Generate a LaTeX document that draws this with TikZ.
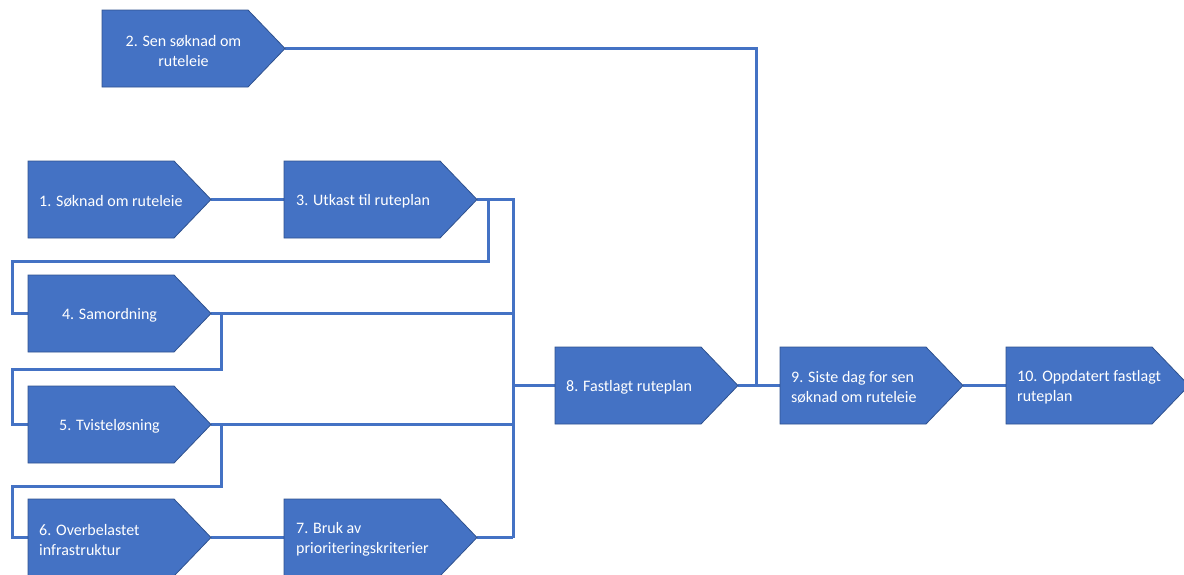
\documentclass[tikz,border=0pt]{standalone}
\usepackage{fontspec}
\setmainfont{Carlito}
\definecolor{boxblue}{HTML}{4472C4}
\definecolor{edgeblue}{HTML}{2F528F}
\definecolor{lineblue}{HTML}{4472C4}
\newcommand\homeplate[1]{\filldraw[platefill] (#1.north west) -- ([xshift=-37pt]#1.north east) -- (#1.east) -- ([xshift=-37pt]#1.south east) -- (#1.south west) -- cycle;}
\begin{document}
\begin{tikzpicture}[x=1pt,y=-1pt,
  stepbox/.style={rectangle, minimum width=183pt, minimum height=77pt, inner sep=0pt, outer sep=0pt, anchor=north west},
  widebox/.style={stepbox, minimum width=193pt},
  platefill/.style={fill=boxblue, draw=edgeblue, line width=0.8pt},
  lbl/.style={text=white, font=\fontsize{16}{20}\selectfont, align=left, inner sep=0pt, yshift=-2pt},
  clbl/.style={lbl, align=center},
  conn/.style={draw=lineblue, line width=3pt}]
\useasboundingbox (0,0) rectangle (1184,574);
% box frames
\node[stepbox] (b1) at (28,161) {};
\node[stepbox] (b2) at (102,10) {};
\node[widebox] (b3) at (284,161) {};
\node[stepbox] (b4) at (28,275) {};
\node[stepbox] (b5) at (28,386) {};
\node[stepbox] (b6) at (28,499) {};
\node[widebox] (b7) at (284,499) {};
\node[stepbox] (b8) at (555,347) {};
\node[stepbox] (b9) at (780,347) {};
\node[stepbox] (b10) at (1006,347) {};
% junctions
\coordinate (tr3) at (513,199.5);
\coordinate (tr7) at (513,537.5);
\coordinate (j89) at (756,385.5);
\coordinate (l3) at (488,199.5);
\coordinate (k3) at (12,261);
\coordinate (l4) at (221,313.5);
\coordinate (k4) at (12,369);
\coordinate (l5) at (221,424.5);
\coordinate (k5) at (12,486);
% connectors
\draw[conn] (b1.east) -- (b3.west);
\draw[conn] (b2.east) -| (j89);
\draw[conn] (b3.east) -- (tr3) -- (tr7);
\draw[conn] (b7.east) -- (tr7);
\draw[conn] (b4.east) -- (b4.east -| tr3);
\draw[conn] (b5.east) -- (b5.east -| tr3);
\draw[conn] (b8.west -| tr3) -- (b8.west);
\draw[conn] (l3) -- (l3 |- k3) -- (k3) |- (b4.west);
\draw[conn] (l4) -- (l4 |- k4) -- (k4) |- (b5.west);
\draw[conn] (l5) -- (l5 |- k5) -- (k5) |- (b6.west);
\draw[conn] (b6.east) -- (b7.west);
\draw[conn] (b8.east) -- (b9.west);
\draw[conn] (b9.east) -- (b10.west);
% boxes
\homeplate{b1}
\homeplate{b2}
\homeplate{b3}
\homeplate{b4}
\homeplate{b5}
\homeplate{b6}
\homeplate{b7}
\homeplate{b8}
\homeplate{b9}
\homeplate{b10}
% labels
\node[lbl, anchor=west] (t1) at ([xshift=11pt]b1.west) {1. Søknad om ruteleie};
\node[clbl] (t2) at ([xshift=81.5pt]b2.west) {2. Sen søknad om\\ruteleie};
\node[lbl, anchor=west] (t3) at ([xshift=12pt]b3.west) {3. Utkast til ruteplan};
\node[clbl] (t4) at ([xshift=81.5pt]b4.west) {4. Samordning};
\node[clbl] (t5) at ([xshift=81.5pt]b5.west) {5. Tvisteløsning};
\node[lbl, anchor=west] (t6) at ([xshift=11pt]b6.west) {6. Overbelastet\\infrastruktur};
\node[lbl, anchor=west] (t7) at ([xshift=12pt]b7.west) {7. Bruk av\\prioriteringskriterier};
\node[lbl, anchor=west] (t8) at ([xshift=11pt]b8.west) {8. Fastlagt ruteplan};
\node[lbl, anchor=west] (t9) at ([xshift=11pt]b9.west) {9. Siste dag for sen\\søknad om ruteleie};
\node[lbl, anchor=west] (t10) at ([xshift=11pt]b10.west) {10. Oppdatert fastlagt\\ruteplan};
\end{tikzpicture}
\end{document}
